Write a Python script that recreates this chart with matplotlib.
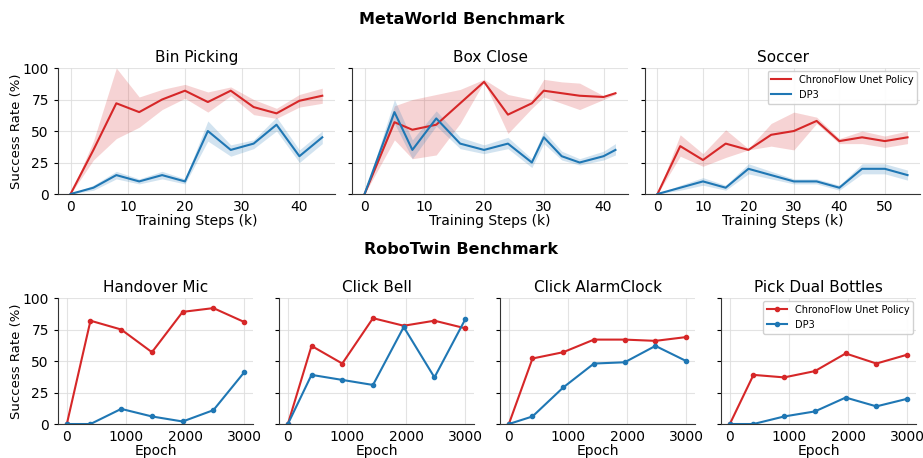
import numpy as np
import matplotlib
matplotlib.use('Agg')
from matplotlib import pyplot as plt
from matplotlib.ticker import MultipleLocator

RED = '#d62728'
BLUE = '#1f77b4'

#==========MetaWorld data==========
bin_steps = [0, 4, 8, 12, 16, 20, 24, 28, 32, 36, 40, 44]
bin_ours = [0, 35, 72, 65, 75, 82, 73, 82, 69, 64, 74, 78]
bin_ours_lo = [0, 27, 44, 53, 67, 76, 65, 78, 63, 60, 69, 72]
bin_ours_hi = [0, 42, 100, 77, 83, 87, 81, 85, 75, 68, 79, 84]
bin_dp3 = [0, 5, 15, 10, 15, 10, 50, 35, 40, 55, 30, 45]
bin_dp3_lo = [0, 3, 12, 8, 12, 8, 42, 30, 36, 50, 25, 40]
bin_dp3_hi = [0, 7, 18, 12, 18, 12, 58, 39, 43, 61, 35, 50]

box_steps = [0, 5, 8, 12, 16, 20, 24, 28, 30, 33, 36, 40, 42]
box_ours = [0, 57, 51, 55, 72, 89, 63, 72, 82, 80, 78, 77, 80]
box_ours_lo = [0, 43, 28, 31, 56, 89, 48, 68, 77, 72, 67, 75, 79]
box_ours_hi = [0, 70, 75, 79, 83, 91, 79, 75, 91, 89, 88, 78, 81]
box_dp3 = [0, 65, 35, 60, 40, 35, 40, 25, 45, 30, 25, 30, 35]
box_dp3_lo = [0, 56, 28, 54, 36, 32, 36, 21, 40, 27, 23, 27, 31]
box_dp3_hi = [0, 75, 43, 66, 45, 39, 45, 28, 50, 34, 28, 34, 40]

soc_steps = [0, 5, 10, 15, 20, 25, 30, 35, 40, 45, 50, 55]
soc_ours = [0, 38, 27, 40, 35, 47, 50, 58, 42, 45, 42, 45]
soc_ours_lo = [0, 30, 22, 29, 35, 38, 35, 56, 40, 40, 37, 40]
soc_ours_hi = [0, 47, 32, 51, 36, 56, 65, 61, 44, 50, 46, 50]
soc_dp3 = [0, 5, 10, 5, 20, 15, 10, 10, 5, 20, 20, 15]
soc_dp3_lo = [0, 3, 7, 3, 16, 12, 8, 8, 3, 16, 16, 11]
soc_dp3_hi = [0, 7, 13, 7, 24, 18, 12, 12, 7, 24, 24, 19]

#==========RoboTwin data==========
epochs = [0, 400, 920, 1440, 1960, 2480, 3000]
mic_ours = [0, 82, 75, 57, 89, 92, 81]
mic_dp3 = [0, 0, 12, 6, 2, 11, 41]
bell_ours = [0, 62, 48, 84, 78, 82, 76]
bell_dp3 = [0, 39, 35, 31, 77, 37, 83]
alarm_ours = [0, 52, 57, 67, 67, 66, 69]
alarm_dp3 = [0, 6, 29, 48, 49, 62, 50]
bottles_ours = [0, 39, 37, 42, 56, 48, 55]
bottles_dp3 = [0, 0, 6, 10, 21, 14, 20]

LABEL_OURS = 'ChronoFlow Unet Policy'
LABEL_DP3 = 'DP3'


def style_ax(ax):
    ax.spines['top'].set_visible(False)
    ax.spines['right'].set_visible(False)
    ax.spines['left'].set_color('#333333')
    ax.spines['bottom'].set_color('#333333')
    ax.grid(True, color='#dddddd', linewidth=0.8, alpha=0.8)
    ax.set_axisbelow(True)
    ax.set_ylim(0, 100)
    ax.set_yticks([0, 25, 50, 75, 100])
    ax.tick_params(labelsize=10, width=0.8)
    ax.tick_params(axis='y', length=3)
    ax.tick_params(axis='x', length=0, pad=4)


fig = plt.figure(figsize=(9.23, 4.58), dpi=100)

top_lefts = [0.0628, 0.3814, 0.6988]
top_widths = [0.300, 0.299, 0.298]
metaworld = [
    ('Bin Picking', bin_steps, bin_ours, bin_ours_lo, bin_ours_hi, bin_dp3, bin_dp3_lo, bin_dp3_hi),
    ('Box Close', box_steps, box_ours, box_ours_lo, box_ours_hi, box_dp3, box_dp3_lo, box_dp3_hi),
    ('Soccer', soc_steps, soc_ours, soc_ours_lo, soc_ours_hi, soc_dp3, soc_dp3_lo, soc_dp3_hi),
]
for i, (name, x, r, rlo, rhi, b, blo, bhi) in enumerate(metaworld):
    ax = fig.add_axes([top_lefts[i], 0.5764, top_widths[i], 0.2751])
    style_ax(ax)
    ax.fill_between(x, rlo, rhi, color=RED, alpha=0.2, linewidth=0)
    ax.plot(x, r, color=RED, linewidth=1.5, label=LABEL_OURS)
    ax.fill_between(x, blo, bhi, color=BLUE, alpha=0.2, linewidth=0)
    ax.plot(x, b, color=BLUE, linewidth=1.5, label=LABEL_DP3)
    ax.set_ylim(0, 100)
    ax.xaxis.set_major_locator(MultipleLocator(10))
    ax.set_title(name, fontsize=11, pad=4)
    ax.set_xlabel('Training Steps (k)', fontsize=10, labelpad=0)
    if i == 0:
        ax.set_ylabel('Success Rate (%)', fontsize=9.5, labelpad=0)
    else:
        ax.tick_params(labelleft=False)
    if i == 2:
        ax.legend(loc='upper right', fontsize=7, framealpha=0.9,
                  handlelength=2, borderaxespad=0.3)

bot_lefts = [0.0628, 0.3023, 0.5417, 0.7811]
robotwin = [
    ('Handover Mic', mic_ours, mic_dp3),
    ('Click Bell', bell_ours, bell_dp3),
    ('Click AlarmClock', alarm_ours, alarm_dp3),
    ('Pick Dual Bottles', bottles_ours, bottles_dp3),
]
for i, (name, r, b) in enumerate(robotwin):
    ax = fig.add_axes([bot_lefts[i], 0.0742, 0.2113, 0.2751])
    style_ax(ax)
    ax.plot(epochs, r, color=RED, linewidth=1.5, marker='o', markersize=3, label=LABEL_OURS)
    ax.plot(epochs, b, color=BLUE, linewidth=1.5, marker='o', markersize=3, label=LABEL_DP3)
    ax.set_ylim(0, 100)
    ax.set_xticks([0, 1000, 2000, 3000])
    ax.set_title(name, fontsize=11, pad=4)
    ax.set_xlabel('Epoch', fontsize=10, labelpad=0)
    if i == 0:
        ax.set_ylabel('Success Rate (%)', fontsize=9.5, labelpad=0)
    else:
        ax.tick_params(labelleft=False)
    if i == 3:
        ax.legend(loc='upper right', fontsize=7, framealpha=0.9,
                  handlelength=2, borderaxespad=0.3)

fig.text(0.5, 0.957, 'MetaWorld Benchmark', ha='center', va='center',
         fontsize=11.5, fontweight='bold')
fig.text(0.5, 0.455, 'RoboTwin Benchmark', ha='center', va='center',
         fontsize=11.5, fontweight='bold')

plt.savefig('out.png', dpi=100)
